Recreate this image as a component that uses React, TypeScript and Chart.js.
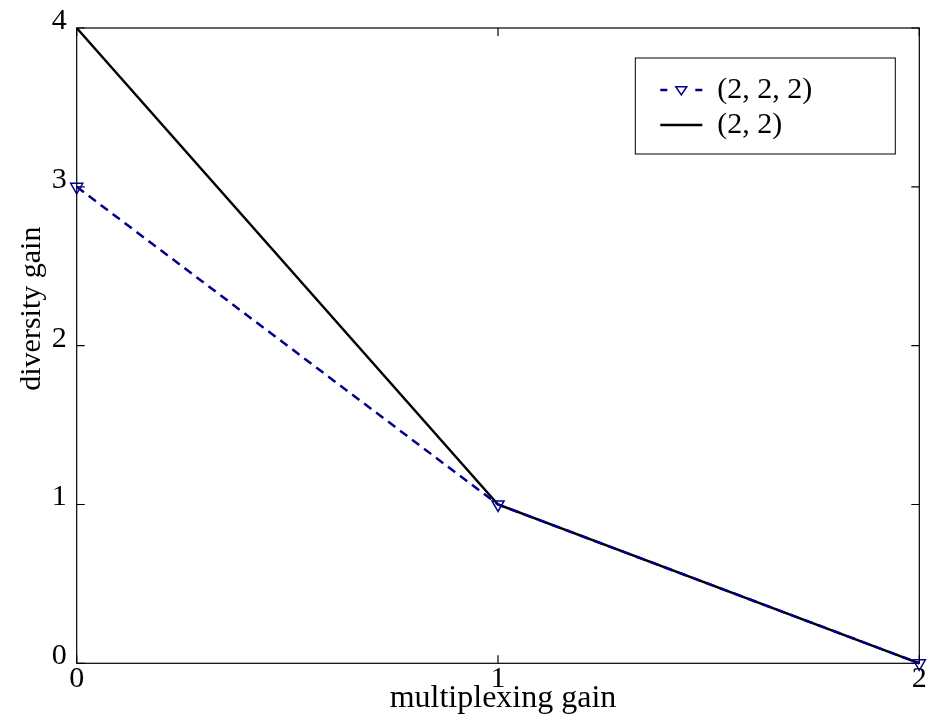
import React, { useEffect, useRef } from "react";
import { Chart, registerables } from "chart.js";

Chart.register(...registerables);

const multiplexingGain = [0, 1, 2];
const diversity222 = [3, 1, 0];
const diversity22 = [4, 1, 0];
const seriesLabels = ["(2, 2, 2)", "(2, 2)"];
const xTitle = "multiplexing gain";
const yTitle = "diversity gain";

const SERIF = "'Liberation Serif', 'Times New Roman', serif";
const BLUE = "#00008B";

const framePlugin = {
  id: "frameTicks",
  beforeDatasetsDraw(chart: any) {
    const { ctx, chartArea: a, scales } = chart;
    ctx.save();
    ctx.strokeStyle = "#000";
    ctx.lineWidth = 1.2;
    ctx.strokeRect(a.left, a.top, a.right - a.left, a.bottom - a.top);
    const tl = 8;
    ctx.beginPath();
    scales.x.ticks.forEach((t: any) => {
      const px = scales.x.getPixelForValue(t.value);
      ctx.moveTo(px, a.bottom);
      ctx.lineTo(px, a.bottom - tl);
      ctx.moveTo(px, a.top);
      ctx.lineTo(px, a.top + tl);
    });
    scales.y.ticks.forEach((t: any) => {
      const py = scales.y.getPixelForValue(t.value);
      ctx.moveTo(a.left, py);
      ctx.lineTo(a.left + tl, py);
      ctx.moveTo(a.right, py);
      ctx.lineTo(a.right - tl, py);
    });
    ctx.stroke();
    ctx.restore();
  },
  afterDraw(chart: any) {
    const { ctx, chartArea: a } = chart;
    ctx.save();
    ctx.fillStyle = "#000";
    // axis titles
    ctx.font = `32px ${SERIF}`;
    ctx.textAlign = "center";
    ctx.textBaseline = "alphabetic";
    ctx.fillText(xTitle, (a.left + a.right) / 2 + 5, 707);
    ctx.save();
    ctx.translate(40, (a.top + a.bottom) / 2 - 37);
    ctx.rotate(-Math.PI / 2);
    ctx.font = `30px ${SERIF}`;
    ctx.fillText(yTitle, 0, 0);
    ctx.restore();

    // legend
    const bx = a.right - 284;
    const by = a.top + 30;
    const bw = 260;
    const bh = 96;
    ctx.fillStyle = "#fff";
    ctx.fillRect(bx, by, bw, bh);
    ctx.strokeStyle = "#000";
    ctx.lineWidth = 1;
    ctx.strokeRect(bx, by, bw, bh);
    const rows = [by + 32, by + 67];
    chart.data.datasets.forEach((ds: any, i: number) => {
      const y = rows[i];
      const x0 = bx + 25;
      const x1 = bx + 67;
      ctx.save();
      ctx.strokeStyle = ds.borderColor;
      ctx.lineWidth = ds.borderWidth;
      if (ds.borderDash && ds.borderDash.length) {
        ctx.setLineDash([7, 28]);
      }
      ctx.beginPath();
      ctx.moveTo(x0, y);
      ctx.lineTo(x1, y);
      ctx.stroke();
      ctx.setLineDash([]);
      if (ds.pointRadius > 0) {
        const cx = (x0 + x1) / 2;
        const r = 5.5;
        ctx.lineWidth = 1.5;
        ctx.beginPath();
        ctx.moveTo(cx - r, y - r * 0.6);
        ctx.lineTo(cx + r, y - r * 0.6);
        ctx.lineTo(cx, y + r * 0.9);
        ctx.closePath();
        ctx.stroke();
      }
      ctx.restore();
      ctx.fillStyle = "#000";
      ctx.font = `30px ${SERIF}`;
      ctx.textAlign = "left";
      ctx.textBaseline = "middle";
      ctx.fillText(ds.label, bx + 82, y);
    });
    ctx.restore();
  },
};

export default function App() {
  const ref = useRef<HTMLCanvasElement>(null);
  useEffect(() => {
    if (!ref.current) return;
    const chart = new Chart(ref.current, {
      type: "line",
      data: {
        datasets: [
          {
            label: seriesLabels[0],
            data: multiplexingGain.map((x, i) => ({ x, y: diversity222[i] })),
            borderColor: BLUE,
            borderWidth: 2.5,
            borderDash: [9, 6],
            pointStyle: "triangle",
            rotation: 180,
            pointRadius: 7,
            pointBorderWidth: 1.5,
            pointBorderColor: BLUE,
            pointBackgroundColor: "rgba(0,0,0,0)",
            tension: 0,
            clip: false,
          },
          {
            label: seriesLabels[1],
            data: multiplexingGain.map((x, i) => ({ x, y: diversity22[i] })),
            borderColor: "#000",
            borderWidth: 2.5,
            pointRadius: 0,
            tension: 0,
            clip: false,
          },
        ],
      },
      options: {
        responsive: false,
        maintainAspectRatio: false,
        animation: false,
        layout: { padding: { top: 26.7, right: 19.7, left: 0, bottom: 0 } },
        plugins: { legend: { display: false }, tooltip: { enabled: false } },
        scales: {
          x: {
            type: "linear",
            min: 0,
            max: 2,
            ticks: {
              stepSize: 1,
              color: "#000",
              padding: -2,
              font: { family: SERIF, size: 30 },
            },
            grid: { display: false, drawTicks: false },
            border: { display: false },
            afterFit: (s: any) => {
              s.height = 51.7;
            },
          },
          y: {
            type: "linear",
            min: 0,
            max: 4,
            ticks: {
              stepSize: 1,
              color: "#000",
              padding: 10,
              labelOffset: -7,
              font: { family: SERIF, size: 30 },
            },
            grid: { display: false, drawTicks: false },
            border: { display: false },
            afterFit: (s: any) => {
              s.width = 76.7;
            },
          },
        },
      },
      plugins: [framePlugin],
    } as any);
    return () => chart.destroy();
  }, []);
  return (
    <div style={{ position: "fixed", left: 0, top: 0, width: 939, height: 715, background: "#fff" }}>
      <canvas ref={ref} width={939} height={715} style={{ display: "block" }} />
    </div>
  );
}
